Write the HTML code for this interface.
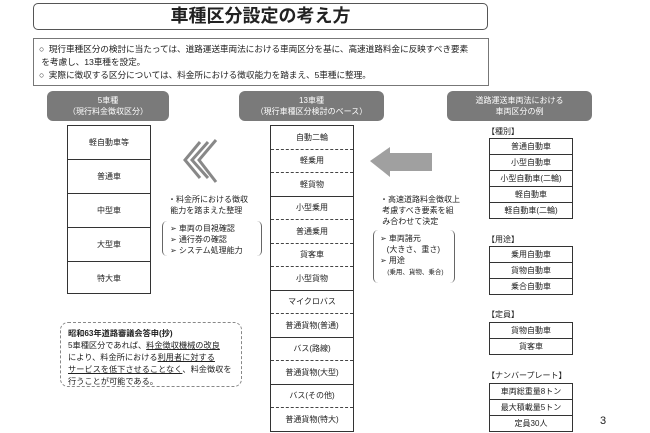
<!DOCTYPE html>
<html><head><meta charset="utf-8"><style>
body{margin:0;width:650px;height:433px;background:#fff;position:relative;overflow:hidden;font-family:"Liberation Sans","Noto Sans CJK JP",sans-serif;color:#222}
.a{position:absolute}
.hd{position:absolute;background:#7a7a7a;color:#fff;border-radius:6px;font-size:8px;text-align:center;line-height:11px;display:flex;flex-direction:column;justify-content:center}
.tb{position:absolute;border:1px solid #333;box-sizing:border-box}
.r{box-sizing:border-box;display:flex;align-items:center;justify-content:center;font-size:8px;border-bottom:1px solid #333;white-space:nowrap}
.d{border-bottom:1px dashed #444}
.r:last-child{border-bottom:none}
.lb{position:absolute;font-size:8px;white-space:nowrap}
</style></head><body>
<div class="a" style="left:33px;top:3px;width:455px;height:27px;border:1px solid #555;border-radius:5px;box-sizing:border-box;text-align:center;font-size:18px;font-weight:bold;line-height:25px">車種区分設定の考え方</div>
<div class="a" style="left:33px;top:38px;width:456px;height:48px;border:1px solid #777;box-sizing:border-box;font-size:8.7px;line-height:13px;padding:4px 0 0 5px;white-space:nowrap;letter-spacing:-0.1px">○&nbsp; 現行車種区分の検討に当たっては、道路運送車両法における車両区分を基に、高速道路料金に反映すべき要素<br>&nbsp;を考慮し、13車種を設定。<br>○&nbsp; 実際に徴収する区分については、料金所における徴収能力を踏まえ、5車種に整理。</div>

<div class="hd" style="left:47px;top:91px;width:122px;height:30px"><span>5車種</span><span>（現行料金徴収区分）</span></div>
<div class="tb" style="left:67px;top:125px;width:84px;height:169px">
<div class="r" style="height:34px">軽自動車等</div><div class="r" style="height:34px">普通車</div><div class="r" style="height:34px">中型車</div><div class="r" style="height:34px">大型車</div><div class="r" style="height:33px">特大車</div></div>

<svg class="a" style="left:180px;top:138px" width="50" height="48"><g stroke="#888" stroke-width="3" fill="none"><polyline points="20,4 5,22 20,40"/><polyline points="28,4 12,22 28,40"/><polyline points="36,2 19,22 36,44"/></g></svg>
<div class="lb" style="left:168px;top:194px;line-height:11px">・料金所における徴収<br>&nbsp;能力を踏まえた整理</div>
<div class="lb" style="left:162px;top:221px;width:98px;height:35px;border-left:1px solid #666;border-right:1px solid #666;border-radius:5px"></div>
<div class="lb" style="left:170px;top:223px;line-height:11px">➢ 車両の目視確認<br>➢ 通行券の確認<br>➢ システム処理能力</div>

<div class="hd" style="left:239px;top:91px;width:145px;height:30px"><span>13車種</span><span>（現行車種区分検討のベース）</span></div>
<div class="tb" style="left:270px;top:125px;width:84px;height:307px">
<div class="r d" style="height:23.5px">自動二輪</div><div class="r d" style="height:23.5px">軽乗用</div><div class="r" style="height:23.5px">軽貨物</div>
<div class="r d" style="height:23.5px">小型乗用</div><div class="r d" style="height:23.5px">普通乗用</div><div class="r d" style="height:23.5px">貨客車</div><div class="r" style="height:23.5px">小型貨物</div>
<div class="r d" style="height:23.5px">マイクロバス</div><div class="r" style="height:23.5px">普通貨物(普通)</div>
<div class="r d" style="height:23.5px">バス(路線)</div><div class="r" style="height:23.5px">普通貨物(大型)</div>
<div class="r d" style="height:23.5px">バス(その他)</div><div class="r" style="height:23px">普通貨物(特大)</div></div>

<svg class="a" style="left:368px;top:146px" width="66" height="36"><polygon points="2,15 22,1 22,7 64,7 64,25 22,25 22,31" fill="#a0a0a0"/></svg>
<div class="lb" style="left:380px;top:194px;line-height:11px">・高速道路料金徴収上<br>&nbsp;考慮すべき要素を組<br>&nbsp;み合わせて決定</div>
<div class="lb" style="left:373px;top:230px;width:80px;height:53px;border-left:1px solid #666;border-right:1px solid #666;border-radius:5px"></div>
<div class="lb" style="left:380px;top:233px;line-height:11px">➢ 車両諸元<br>&nbsp;&nbsp;&nbsp;(大きさ、重さ)<br>➢ 用途<br><span style="font-size:6.5px">&nbsp;&nbsp;&nbsp;&nbsp;(乗用、貨物、乗合)</span></div>

<div class="hd" style="left:447px;top:91px;width:145px;height:30px"><span>道路運送車両法における</span><span>車両区分の例</span></div>
<div class="lb" style="left:487px;top:126px">【種別】</div>
<div class="tb" style="left:489px;top:138px;width:84px;height:81px">
<div class="r" style="height:16px">普通自動車</div><div class="r" style="height:16px">小型自動車</div><div class="r" style="height:16px">小型自動車(二輪)</div><div class="r" style="height:16px">軽自動車</div><div class="r" style="height:15px">軽自動車(二輪)</div></div>
<div class="lb" style="left:487px;top:234px">【用途】</div>
<div class="tb" style="left:489px;top:246px;width:84px;height:49px">
<div class="r" style="height:16px">乗用自動車</div><div class="r" style="height:16px">貨物自動車</div><div class="r" style="height:15px">乗合自動車</div></div>
<div class="lb" style="left:487px;top:309px">【定員】</div>
<div class="tb" style="left:489px;top:322px;width:84px;height:33px">
<div class="r" style="height:16px">貨物自動車</div><div class="r" style="height:15px">貨客車</div></div>
<div class="lb" style="left:487px;top:370px">【ナンバープレート】</div>
<div class="tb" style="left:489px;top:383px;width:84px;height:49px">
<div class="r" style="height:16px">車両総重量8トン</div><div class="r" style="height:16px">最大積載量5トン</div><div class="r" style="height:15px">定員30人</div></div>
<div class="lb" style="left:600px;top:415px;font-size:11px">3</div>

<div class="a" style="left:60px;top:322px;width:182px;height:65px;border:1px dashed #888;border-radius:8px;box-sizing:border-box;font-size:8.2px;line-height:12px;padding:5px 0 0 7px;white-space:nowrap"><b>昭和63年道路審議会答申(抄)</b><br>5車種区分であれば、<u>料金徴収機械の改良</u><br>により、料金所における<u>利用者に対する</u><br><u>サービスを低下させることなく</u>、料金徴収を<br>行うことが可能である。</div>
</body></html>
